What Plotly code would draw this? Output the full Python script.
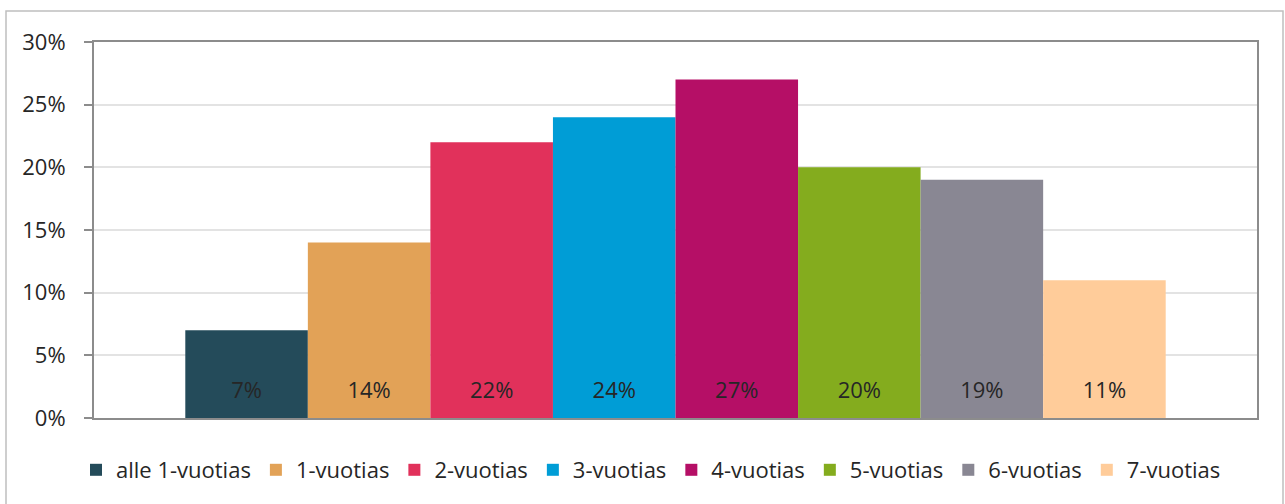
import plotly.graph_objects as go

categories = ["alle 1-vuotias", "1-vuotias", "2-vuotias", "3-vuotias",
              "4-vuotias", "5-vuotias", "6-vuotias", "7-vuotias"]
values = [7, 14, 22, 24, 27, 20, 19, 11]
colors = ["#244B5A", "#E2A257", "#E1315B", "#009DD6",
          "#B50F66", "#84AC1E", "#898793", "#FFCC9A"]
ytick_vals = [0, 5, 10, 15, 20, 25, 30]
ytick_text = [f"{v}%" for v in ytick_vals]

FONT = "Open Sans, Lato, sans-serif"
FS = 22
SPACER = 11  # small trailing line lifts the in-bar labels off the bar base

fig = go.Figure()
for name, v, c in zip(categories, values, colors):
    fig.add_trace(go.Bar(
        x=[""], y=[v], name=name, marker=dict(color=c, line=dict(width=0)),
        text=[f"<span style='font-size:{FS}px'>{v}%</span><br> "],
        textposition="inside", insidetextanchor="start",
        textfont=dict(color="#262626", size=SPACER, family=FONT),
        textangle=0, hoverinfo="name+y",
    ))

W, H = 1285, 504
L, R, T, B = 94, 28, 42, 86
pw, ph = W - L - R, H - T - B

def px_x(x):
    return (x - L) / pw

def px_y(y):
    return (H - B - y) / ph

fig.update_layout(
    width=W, height=H,
    margin=dict(l=L, r=R, t=T, b=B),
    barmode="group", bargap=0.157, bargroupgap=0,
    plot_bgcolor="white", paper_bgcolor="white",
    font=dict(family=FONT, size=FS, color="#262626"),
    showlegend=True,
    legend=dict(orientation="h", x=px_x(651), xanchor="center", y=px_y(470), yanchor="middle",
                font=dict(size=FS, family=FONT, color="#262626"),
                itemwidth=30, traceorder="normal"),
    xaxis=dict(showticklabels=False, showgrid=False, zeroline=False,
               showline=True, linecolor="#8C8C8C", linewidth=2, mirror=True),
    yaxis=dict(range=[0, 30], tickvals=ytick_vals, ticktext=ytick_text,
               showgrid=True, gridcolor="#E3E3E3", gridwidth=2, zeroline=False,
               showline=True, linecolor="#8C8C8C", linewidth=2, mirror=True,
               ticks="outside", ticklen=8, tickcolor="#8C8C8C", tickwidth=2,
               ticklabelstandoff=14,
               tickfont=dict(size=FS, family=FONT, color="#262626")),
    shapes=[dict(type="rect", xref="paper", yref="paper",
                 x0=px_x(6), x1=px_x(1283), y0=px_y(520), y1=px_y(11),
                 line=dict(color="#BFBFBF", width=1.5), fillcolor="rgba(0,0,0,0)",
                 layer="below")],
)

fig.write_html("out.html", config={"displayModeBar": False},
               post_script="document.body.style.margin='0';")
